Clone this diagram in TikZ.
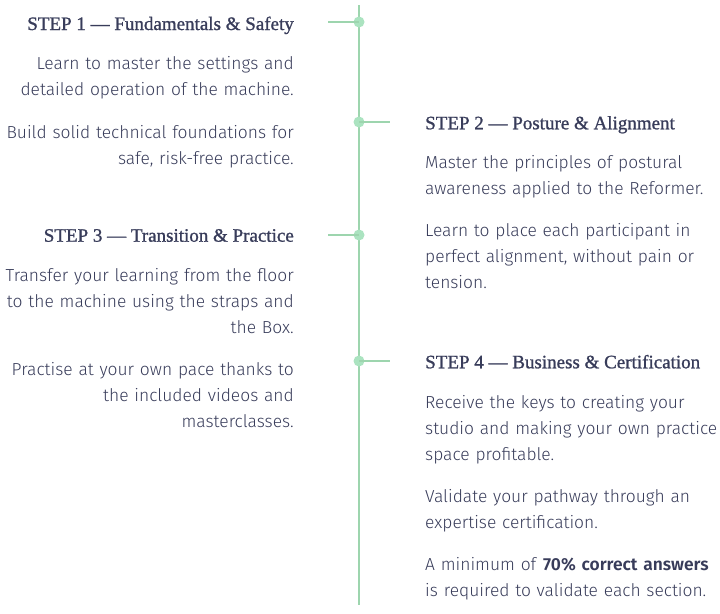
\documentclass[tikz,border=0pt]{standalone}
\usepackage{fontspec}
\setmainfont{Fira Sans Light}[BoldFont={Fira Sans SemiBold}]
\newfontfamily\headfont[FakeBold=1.1]{Liberation Serif}
\definecolor{ink}{HTML}{383C5A}
\definecolor{rail}{HTML}{9DD5AE}
\definecolor{dotc}{HTML}{ABE3C0}
\tikzset{
  head/.style={inner sep=0pt, text=ink, font=\headfont\fontsize{19}{24}\selectfont},
  bodyL/.style={inner sep=0pt, text=ink, anchor=base east, text width=330pt, align=right, font=\fontsize{17.4}{26}\selectfont},
  bodyR/.style={inner sep=0pt, text=ink, anchor=base west, text width=330pt, align=left, font=\fontsize{17.4}{26}\selectfont},
  railline/.style={draw=rail, line width=2pt},
  dotn/.style={circle, fill=dotc, inner sep=0pt, minimum size=11pt}
}
\begin{document}
\begin{tikzpicture}[x=1pt,y=-1pt]
\useasboundingbox (0,0) rectangle (720,613);
% rail
\coordinate (top) at (359,5);
\coordinate (bot) at (359,605);
\draw[railline] (top) -- (bot);
\node[dotn] (d1) at (359,22) {};
\node[dotn] (d2) at (359,122) {};
\node[dotn] (d3) at (359,235) {};
\node[dotn] (d4) at (359,361) {};
\coordinate (s1) at (328,22);
\coordinate (s2) at (390,122);
\coordinate (s3) at (328,235);
\coordinate (s4) at (390,361);
\draw[railline] (d1.center) -- (s1);
\draw[railline] (d2.center) -- (s2);
\draw[railline, line width=2.6pt] (d3.center) -- (s3);
\draw[railline] (d4.center) -- (s4);
% step 1
\node[head, anchor=base east] (h1) at (294,30) {STEP 1 — Fundamentals \& Safety};
\node[bodyL] (p1a) at (294,69.5) {Learn to master the settings and\\detailed operation of the machine.};
\node[bodyL] (p1b) at (294,138.3) {Build solid technical foundations for\\safe, risk-free practice.};
% step 2
\node[head, anchor=base west] (h2) at (425,129.3) {STEP 2 — Posture \& Alignment};
\node[bodyR] (p2a) at (425,168.3) {Master the principles of postural\\awareness applied to the Reformer.};
\node[bodyR] (p2b) at (425,236.7) {Learn to place each participant in\\perfect alignment, without pain or\\tension.};
% step 3
\node[head, anchor=base east] (h3) at (294,241.7) {STEP 3 — Transition \& Practice};
\node[bodyL] (p3a) at (294,281.7) {Transfer your learning from the floor\\to the machine using the straps and\\the Box.};
\node[bodyL] (p3b) at (294,375) {Practise at your own pace thanks to\\the included videos and\\masterclasses.};
% step 4
\node[head, anchor=base west] (h4) at (425,368.3) {STEP 4 — Business \& Certification};
\node[bodyR] (p4a) at (425,408.3) {Receive the keys to creating your\\studio and making your own practice\\space profitable.};
\node[bodyR] (p4b) at (425,502.7) {Validate your pathway through an\\expertise certification.};
\node[bodyR] (p4c) at (425,570.7) {A minimum of \textbf{70\% correct answers}\\is required to validate each section.};
\end{tikzpicture}
\end{document}
